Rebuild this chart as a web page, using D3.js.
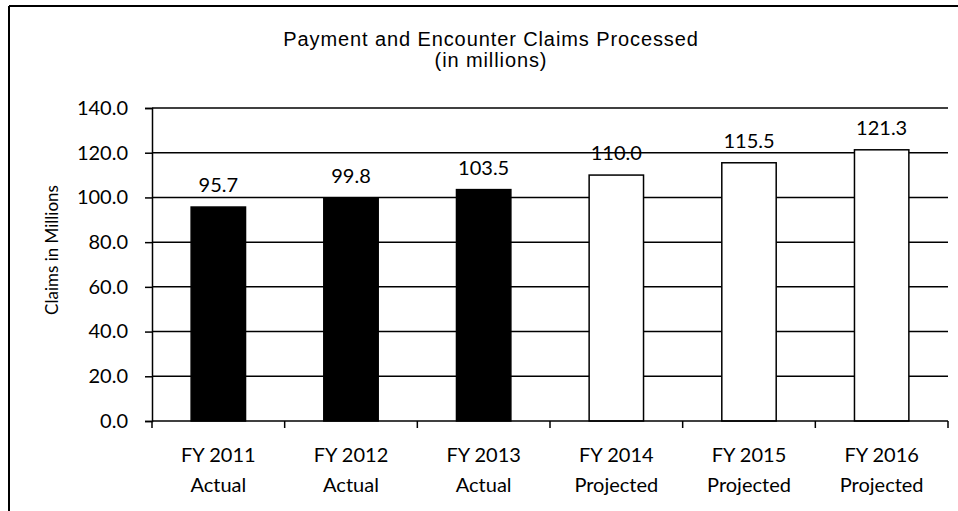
<!DOCTYPE html>
<html>
<head>
<meta charset="utf-8">
<script src="https://cdn.jsdelivr.net/npm/d3@7"></script>
<style>
  body { margin: 0; background: #fff; }
  svg { display: block; }
</style>
</head>
<body>
<div id="chart"></div>
<script>
// data
const years = ["FY 2011", "FY 2012", "FY 2013", "FY 2014", "FY 2015", "FY 2016"];
const kinds = ["Actual", "Actual", "Actual", "Projected", "Projected", "Projected"];
const claims = [95.7, 99.8, 103.5, 110.0, 115.5, 121.3];
const yTicks = [0, 20, 40, 60, 80, 100, 120, 140];

const width = 958, height = 511;
const margin = {top: 108, right: 10, bottom: 90, left: 152};
const innerW = width - margin.left - margin.right;
const innerH = height - margin.top - margin.bottom;
const bodyFont = "Lato, 'Open Sans', sans-serif";
const titleFont = "'Liberation Sans', Arial, sans-serif";

const rows = years.map((y, i) => ({year: y, kind: kinds[i], value: claims[i]}));

const svg = d3.select("#chart").append("svg")
  .attr("width", width)
  .attr("height", height);

// outer frame (only top and left edges show in the reference)
svg.append("line").attr("x1", 9).attr("x2", width).attr("y1", 6).attr("y2", 6)
  .attr("stroke", "#000").attr("stroke-width", 2);
svg.append("line").attr("x1", 9).attr("x2", 9).attr("y1", 6).attr("y2", height)
  .attr("stroke", "#000").attr("stroke-width", 2);

// title, a little letter spacing to match the wide scanned type
svg.append("text")
  .attr("x", 491).attr("y", 46)
  .attr("text-anchor", "middle")
  .style("font-family", titleFont)
  .style("font-size", "20px")
  .style("letter-spacing", "0.9px")
  .text("Payment and Encounter Claims Processed");
svg.append("text")
  .attr("x", 491).attr("y", 67)
  .attr("text-anchor", "middle")
  .style("font-family", titleFont)
  .style("font-size", "20px")
  .style("letter-spacing", "0.9px")
  .text("(in millions)");

const g = svg.append("g").attr("transform", `translate(${margin.left},${margin.top})`);

const x = d3.scaleBand().domain(years).range([0, innerW]).paddingInner(0.59).paddingOuter(0.295);
const xAxisScale = d3.scaleBand().domain(years).range([0, innerW]);
const y = d3.scaleLinear().domain([0, 140]).range([innerH, 0]);

// gridlines
g.append("g")
  .selectAll("line")
  .data(yTicks.slice(1))
  .join("line")
  .attr("x1", 0).attr("x2", innerW)
  .attr("y1", d => y(d)).attr("y2", d => y(d))
  .attr("stroke", "#000").attr("stroke-width", 1.5);

// y axis
const yAxis = g.append("g")
  .call(d3.axisLeft(y).tickValues(yTicks).tickSize(7).tickPadding(17).tickFormat(d3.format(".1f")));
yAxis.select(".domain").attr("stroke-width", 1.5);
yAxis.selectAll(".tick line").attr("stroke-width", 1.5);
yAxis.selectAll("text")
  .style("font-family", bodyFont)
  .style("font-size", "20px")
  .attr("fill", "#000");

// bars
g.selectAll("rect.bar")
  .data(rows)
  .join("rect")
  .attr("class", "bar")
  .attr("x", d => x(d.year))
  .attr("width", x.bandwidth())
  .attr("y", d => y(d.value))
  .attr("height", d => innerH - y(d.value))
  .attr("fill", d => d.kind === "Actual" ? "#000" : "#fff")
  .attr("stroke", "#000")
  .attr("stroke-width", 1.5);

// value labels
g.selectAll("text.val")
  .data(rows)
  .join("text")
  .attr("class", "val")
  .attr("x", d => x(d.year) + x.bandwidth() / 2)
  .attr("y", d => y(d.value) - 15)
  .attr("text-anchor", "middle")
  .style("font-family", bodyFont)
  .style("font-size", "20px")
  .text(d => d.value.toFixed(1));

// x axis, ticks sit between the categories
const xAxis = g.append("g").attr("transform", `translate(0,${innerH})`);
xAxis.append("line").attr("x1", 0).attr("x2", innerW).attr("stroke", "#000").attr("stroke-width", 1.5);
xAxis.selectAll("line.tk")
  .data(years.concat(["end"]))
  .join("line")
  .attr("class", "tk")
  .attr("x1", (d, i) => i * xAxisScale.step())
  .attr("x2", (d, i) => i * xAxisScale.step())
  .attr("y1", 0).attr("y2", 7)
  .attr("stroke", "#000").attr("stroke-width", 1.5);

const cx = d => xAxisScale(d.year) + xAxisScale.bandwidth() / 2;
const lab = xAxis.selectAll("text.cat")
  .data(rows)
  .join("text")
  .attr("class", "cat")
  .attr("text-anchor", "middle")
  .style("font-family", bodyFont)
  .style("font-size", "20px");
lab.append("tspan").attr("x", cx).attr("y", 41).text(d => d.year);
lab.append("tspan").attr("x", cx).attr("y", 71).text(d => d.kind);

// y axis title
svg.append("text")
  .attr("transform", "translate(58,250) rotate(-90)")
  .attr("text-anchor", "middle")
  .style("font-family", bodyFont)
  .style("font-size", "17px")
  .text("Claims in Millions");
</script>
</body>
</html>
